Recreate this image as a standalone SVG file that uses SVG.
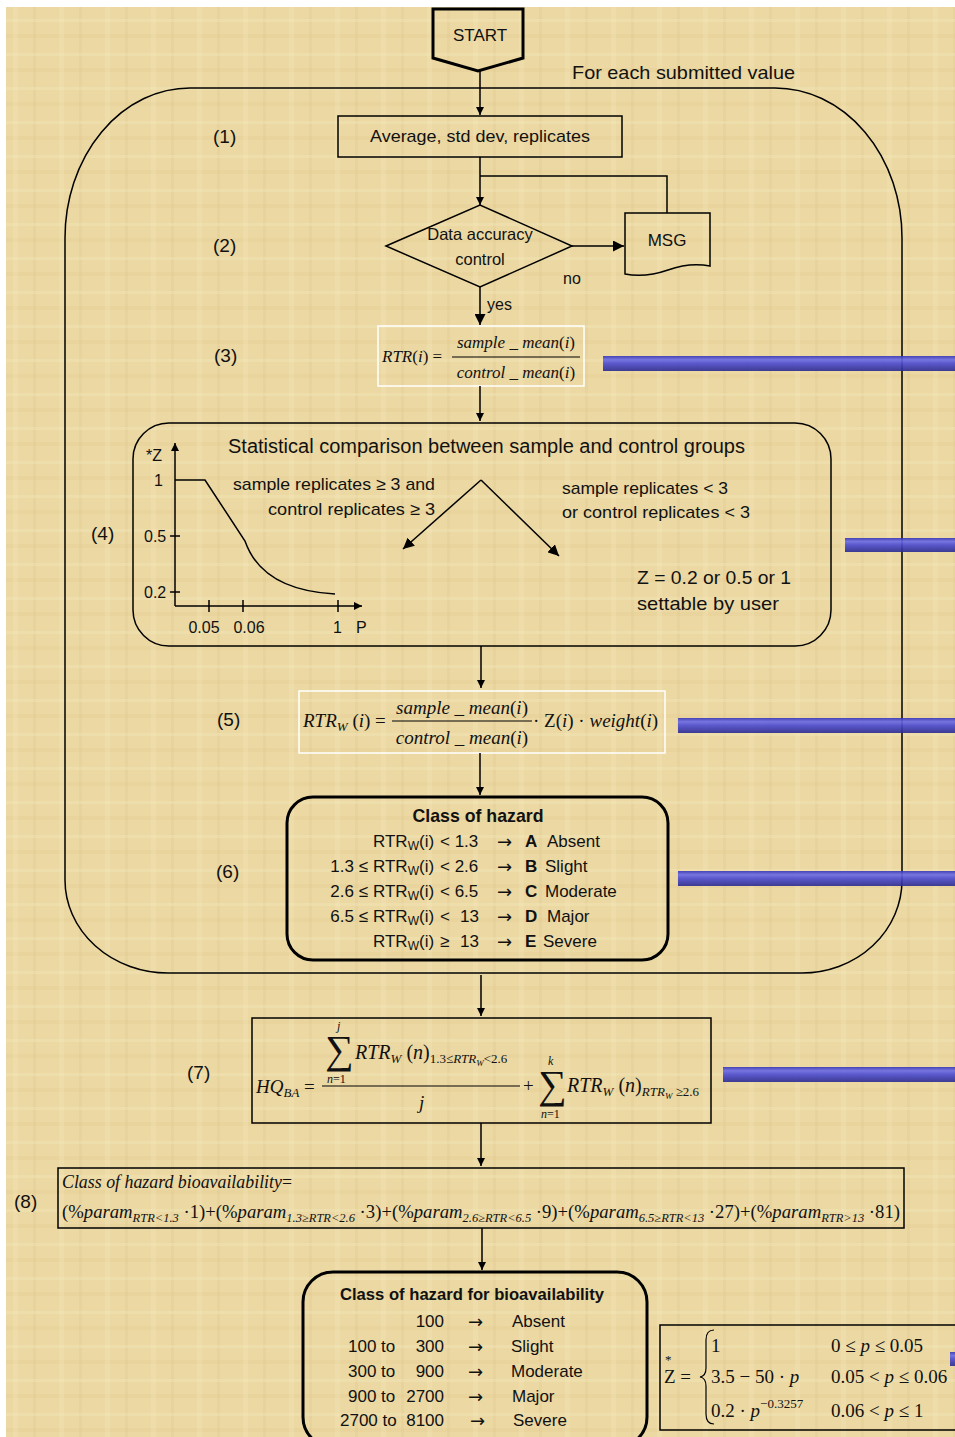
<svg xmlns="http://www.w3.org/2000/svg" width="955" height="1437" viewBox="0 0 955 1437">
<defs>
<style>
.s{font-family:"Liberation Sans",Arial,sans-serif;fill:#111}
.m{font-family:"Liberation Serif","Times New Roman",serif;font-style:italic;fill:#111}
.r{font-family:"Liberation Serif","Times New Roman",serif;fill:#111}
.ar{font-family:"DejaVu Sans",sans-serif;fill:#111;font-size:18px}
.ln{fill:none;stroke:#000;stroke-width:1.5}
.wb{fill:none;stroke:#fff;stroke-width:1.5}
.b{font-weight:bold}
</style>
<marker id="ah" viewBox="0 0 10 10" refX="10" refY="5" markerWidth="8" markerHeight="8" orient="auto" markerUnits="userSpaceOnUse">
<path d="M0,0 L10,5 L0,10 z" fill="#000"/>
</marker>
<marker id="ah2" viewBox="0 0 10 10" refX="10" refY="5" markerWidth="11" markerHeight="11" orient="auto" markerUnits="userSpaceOnUse">
<path d="M0,0 L10,5 L0,10 z" fill="#000"/>
</marker>
<linearGradient id="bar" x1="0" y1="0" x2="0" y2="1">
<stop offset="0" stop-color="#3434b8"/>
<stop offset="0.25" stop-color="#6a6ae6"/>
<stop offset="0.5" stop-color="#4a4ad0"/>
<stop offset="1" stop-color="#2a2a90"/>
</linearGradient>
<pattern id="tex" width="46" height="34" patternUnits="userSpaceOnUse">
<rect width="46" height="34" fill="#ebd8a3"/>
<rect x="0" y="0" width="46" height="4" fill="#e2ca8f" opacity="0.35"/>
<rect x="13" y="0" width="5" height="34" fill="#f2e4b8" opacity="0.35"/>
<rect x="33" y="0" width="3" height="34" fill="#dec589" opacity="0.25"/>
<rect x="0" y="19" width="46" height="3" fill="#f3e6bd" opacity="0.35"/>
</pattern>
</defs>
<rect width="955" height="1437" fill="#fff"/>
<rect x="6" y="7" width="949" height="1430" fill="url(#tex)"/>

<g id="loop">
<path class="ln" d="M190,88 L775,88 A127,150 0 0 1 902,238 L902,880 A100,93 0 0 1 802,973 L168,973 A103,93 0 0 1 65,880 L65,238 A125,150 0 0 1 190,88 Z"/>
<text class="s" x="572" y="79" font-size="19" textLength="223" lengthAdjust="spacingAndGlyphs">For each submitted value</text>
</g>

<g id="labels" class="s" font-size="19">
<text x="213" y="143">(1)</text>
<text x="213" y="252">(2)</text>
<text x="214" y="362">(3)</text>
<text x="91" y="540">(4)</text>
<text x="217" y="726">(5)</text>
<text x="216" y="878">(6)</text>
<text x="187" y="1079">(7)</text>
<text x="14" y="1208">(8)</text>
</g>

<g id="start">
<path d="M433,9 L523,9 L523,58 L478,71 L433,58 Z" fill="none" stroke="#000" stroke-width="3"/>
<text class="s" x="480" y="41" font-size="17" text-anchor="middle">START</text>
</g>

<g id="n1">
<rect x="338" y="116" width="284" height="41" class="ln"/>
<text class="s" x="480" y="142" font-size="17" text-anchor="middle" textLength="220" lengthAdjust="spacingAndGlyphs">Average, std dev, replicates</text>
</g>

<g id="n2">
<path d="M386,246 L480,205 L572,246 L480,287 Z" class="ln"/>
<text class="s" x="480" y="240" font-size="16.5" text-anchor="middle">Data accuracy</text>
<text class="s" x="480" y="265" font-size="16.5" text-anchor="middle">control</text>
</g>

<g id="msg">
<path d="M625,213 L710,213 L710,266 Q690,262 668,270 Q645,278 625,274 Z" class="ln"/>
<text class="s" x="667" y="246" font-size="17" text-anchor="middle">MSG</text>
</g>

<g id="n3">
<rect x="378" y="326" width="206" height="60" class="wb"/>
<text class="m" x="382" y="362" font-size="17">RTR<tspan font-style="normal">(</tspan>i<tspan font-style="normal">) =</tspan></text>
<line x1="452" y1="357" x2="580" y2="357" stroke="#000" stroke-width="1"/>
<text class="m" x="516" y="348" font-size="17" text-anchor="middle">sample _ mean<tspan font-style="normal">(</tspan>i<tspan font-style="normal">)</tspan></text>
<text class="m" x="516" y="378" font-size="17" text-anchor="middle">control _ mean<tspan font-style="normal">(</tspan>i<tspan font-style="normal">)</tspan></text>
</g>

<g id="n4">
<rect x="133" y="423" width="698" height="223" rx="36" ry="36" class="ln"/>
<text class="s" x="228" y="453" font-size="20" textLength="517" lengthAdjust="spacingAndGlyphs">Statistical comparison between sample and control groups</text>
<line x1="175" y1="606" x2="175" y2="443" class="ln" marker-end="url(#ah)"/>
<line x1="175" y1="606" x2="362" y2="606" class="ln" marker-end="url(#ah)"/>
<line x1="170" y1="536" x2="180" y2="536" class="ln"/>
<line x1="170" y1="592" x2="180" y2="592" class="ln"/>
<line x1="209" y1="600" x2="209" y2="612" class="ln"/>
<line x1="243" y1="600" x2="243" y2="612" class="ln"/>
<line x1="338" y1="600" x2="338" y2="612" class="ln"/>
<path d="M175,480 L205,480 L245,541 Q262,590 335,594" class="ln"/>
<g class="s" font-size="16">
<text x="146" y="461">*Z</text>
<text x="154" y="486">1</text>
<text x="144" y="542">0.5</text>
<text x="144" y="598">0.2</text>
<text x="204" y="633" text-anchor="middle">0.05</text>
<text x="249" y="633" text-anchor="middle">0.06</text>
<text x="333" y="633">1</text>
<text x="356" y="633">P</text>
</g>
<g class="s" font-size="17">
<text x="233" y="490" textLength="202" lengthAdjust="spacingAndGlyphs">sample replicates ≥ 3 and</text>
<text x="268" y="515" textLength="167" lengthAdjust="spacingAndGlyphs">control replicates ≥ 3</text>
<text x="562" y="494" textLength="166" lengthAdjust="spacingAndGlyphs">sample replicates &lt; 3</text>
<text x="562" y="518" textLength="188" lengthAdjust="spacingAndGlyphs">or control replicates &lt; 3</text>
</g>
<g class="s" font-size="19">
<text x="637" y="584" textLength="154" lengthAdjust="spacingAndGlyphs">Z = 0.2 or 0.5 or 1</text>
<text x="637" y="610" textLength="142" lengthAdjust="spacingAndGlyphs">settable by user</text>
</g>
<line x1="481" y1="480" x2="403" y2="549" class="ln" marker-end="url(#ah2)"/>
<line x1="481" y1="480" x2="559" y2="556" class="ln" marker-end="url(#ah2)"/>
</g>

<g id="n5">
<rect x="299" y="691" width="366" height="62" class="wb"/>
<text class="m" x="303" y="727" font-size="19">RTR<tspan font-size="13" dy="4">W</tspan><tspan font-style="normal" dy="-4"> (</tspan>i<tspan font-style="normal">) =</tspan></text>
<line x1="392" y1="721" x2="532" y2="721" stroke="#000" stroke-width="1"/>
<text class="m" x="462" y="714" font-size="19" text-anchor="middle">sample _ mean<tspan font-style="normal">(</tspan>i<tspan font-style="normal">)</tspan></text>
<text class="m" x="462" y="744" font-size="19" text-anchor="middle">control _ mean<tspan font-style="normal">(</tspan>i<tspan font-style="normal">)</tspan></text>
<text class="m" x="533" y="727" font-size="19"><tspan font-style="normal">· Z(</tspan>i<tspan font-style="normal">) · </tspan>weight<tspan font-style="normal">(</tspan>i<tspan font-style="normal">)</tspan></text>
</g>

<g id="n6">
<rect x="287" y="797" width="381" height="163" rx="26" ry="26" fill="none" stroke="#000" stroke-width="3"/>
<text class="s b" x="478" y="822" font-size="19" text-anchor="middle" textLength="131" lengthAdjust="spacingAndGlyphs">Class of hazard</text>
<g class="s" font-size="17">
<text x="368" y="872" text-anchor="end">1.3 ≤</text>
<text x="368" y="897" text-anchor="end">2.6 ≤</text>
<text x="368" y="922" text-anchor="end">6.5 ≤</text>
<text x="373" y="847">RTR<tspan font-size="12" dy="3">W</tspan><tspan dy="-3">(i)</tspan></text>
<text x="373" y="872">RTR<tspan font-size="12" dy="3">W</tspan><tspan dy="-3">(i)</tspan></text>
<text x="373" y="897">RTR<tspan font-size="12" dy="3">W</tspan><tspan dy="-3">(i)</tspan></text>
<text x="373" y="922">RTR<tspan font-size="12" dy="3">W</tspan><tspan dy="-3">(i)</tspan></text>
<text x="373" y="947">RTR<tspan font-size="12" dy="3">W</tspan><tspan dy="-3">(i)</tspan></text>
<text x="440" y="847">&lt; 1.3</text>
<text x="440" y="872">&lt; 2.6</text>
<text x="440" y="897">&lt; 6.5</text>
<text x="440" y="922">&lt;</text><text x="479" y="922" text-anchor="end">13</text>
<text x="440" y="947">≥</text><text x="479" y="947" text-anchor="end">13</text>
<text x="525" y="847"><tspan class="b">A</tspan></text><text x="547" y="847">Absent</text>
<text x="525" y="872"><tspan class="b">B</tspan></text><text x="545" y="872">Slight</text>
<text x="525" y="897"><tspan class="b">C</tspan></text><text x="545" y="897">Moderate</text>
<text x="525" y="922"><tspan class="b">D</tspan></text><text x="547" y="922">Major</text>
<text x="525" y="947"><tspan class="b">E</tspan></text><text x="543" y="947">Severe</text>
</g>
<g class="ar">
<text x="497" y="848">→</text><text x="497" y="873">→</text><text x="497" y="898">→</text><text x="497" y="923">→</text><text x="497" y="948">→</text>
</g>
</g>

<g id="n7">
<rect x="252" y="1018" width="459" height="105" class="ln"/>
<text class="m" x="256" y="1093" font-size="19">HQ<tspan font-size="13" dy="4">BA</tspan><tspan font-style="normal" dy="-4"> =</tspan></text>
<line x1="322" y1="1086" x2="520" y2="1086" stroke="#000" stroke-width="1"/>
<text class="r" x="325" y="1063" font-size="40">∑</text>
<text class="m" x="337" y="1030" font-size="12">j</text>
<text class="r" x="327" y="1083" font-size="12"><tspan font-style="italic">n</tspan>=1</text>
<text class="m" x="355" y="1059" font-size="20">RTR<tspan font-size="13" dy="4">W</tspan><tspan font-style="normal" dy="-4"> (</tspan>n<tspan font-style="normal">)</tspan><tspan font-style="normal" font-size="13" dy="4">1.3≤</tspan><tspan font-size="13">RTR</tspan><tspan font-size="9" dy="3">W</tspan><tspan font-style="normal" font-size="13" dy="-3">&lt;2.6</tspan></text>
<text class="m" x="419" y="1109" font-size="19">j</text>
<text class="r" x="523" y="1092" font-size="19">+</text>
<text class="r" x="538" y="1098" font-size="40">∑</text>
<text class="m" x="548" y="1065" font-size="12">k</text>
<text class="r" x="541" y="1118" font-size="12"><tspan font-style="italic">n</tspan>=1</text>
<text class="m" x="567" y="1092" font-size="20">RTR<tspan font-size="13" dy="4">W</tspan><tspan font-style="normal" dy="-4"> (</tspan>n<tspan font-style="normal">)</tspan><tspan font-size="13" dy="4">RTR</tspan><tspan font-size="9" dy="3">W</tspan><tspan font-style="normal" font-size="13" dy="-3"> ≥2.6</tspan></text>
</g>

<g id="n8">
<rect x="58" y="1168" width="846" height="60" class="ln"/>
<text class="m" x="62" y="1188" font-size="18" textLength="230" lengthAdjust="spacingAndGlyphs">Class of  hazard bioavailability<tspan font-style="normal">=</tspan></text>
<text class="m" x="62" y="1218" font-size="18" textLength="838" lengthAdjust="spacingAndGlyphs"><tspan font-style="normal">(%</tspan>param<tspan font-size="12" dy="4">RTR&lt;1.3</tspan><tspan font-style="normal" dy="-4"> ·1)+(%</tspan>param<tspan font-size="12" dy="4">1.3≥RTR&lt;2.6</tspan><tspan font-style="normal" dy="-4"> ·3)+(%</tspan>param<tspan font-size="12" dy="4">2.6≥RTR&lt;6.5</tspan><tspan font-style="normal" dy="-4"> ·9)+(%</tspan>param<tspan font-size="12" dy="4">6.5≥RTR&lt;13</tspan><tspan font-style="normal" dy="-4"> ·27)+(%</tspan>param<tspan font-size="12" dy="4">RTR&gt;13</tspan><tspan font-style="normal" dy="-4"> ·81)</tspan></text>
</g>

<g id="n9">
<rect x="303" y="1272" width="344" height="175" rx="30" ry="30" fill="none" stroke="#000" stroke-width="3"/>
<text class="s b" x="340" y="1300" font-size="17" textLength="264" lengthAdjust="spacingAndGlyphs">Class of hazard for bioavailability</text>
<g class="s" font-size="17">
<text x="444" y="1327" text-anchor="end">100</text>
<text x="348" y="1352">100 to</text><text x="444" y="1352" text-anchor="end">300</text>
<text x="348" y="1377">300 to</text><text x="444" y="1377" text-anchor="end">900</text>
<text x="348" y="1402">900 to</text><text x="444" y="1402" text-anchor="end">2700</text>
<text x="340" y="1426">2700 to</text><text x="444" y="1426" text-anchor="end">8100</text>
<text x="512" y="1327">Absent</text>
<text x="511" y="1352">Slight</text>
<text x="511" y="1377">Moderate</text>
<text x="512" y="1402">Major</text>
<text x="513" y="1426">Severe</text>
</g>
<g class="ar">
<text x="468" y="1328">→</text><text x="468" y="1353">→</text><text x="468" y="1378">→</text><text x="468" y="1403">→</text><text x="470" y="1427">→</text>
</g>
</g>

<g id="zdef">
<rect x="660" y="1325" width="300" height="105" class="ln"/>
<text class="r" x="664" y="1383" font-size="19">Z =</text>
<text class="r" x="665" y="1364" font-size="13">*</text>
<path d="M714,1330 Q706,1330 706,1340 L706,1368 Q706,1376 700,1377 Q706,1378 706,1386 L706,1414 Q706,1424 714,1424" fill="none" stroke="#000" stroke-width="1.2"/>
<g class="r" font-size="19">
<text x="711" y="1352">1</text>
<text x="711" y="1383">3.5 − 50 · <tspan font-style="italic">p</tspan></text>
<text x="711" y="1417">0.2 · <tspan font-style="italic">p</tspan><tspan font-size="13" dy="-9">−0.3257</tspan></text>
<text x="831" y="1352">0 ≤ <tspan font-style="italic">p</tspan> ≤ 0.05</text>
<text x="831" y="1383">0.05 &lt; <tspan font-style="italic">p</tspan> ≤ 0.06</text>
<text x="831" y="1417">0.06 &lt; <tspan font-style="italic">p</tspan> ≤ 1</text>
</g>
</g>

<g id="bars" fill="url(#bar)" opacity="0.9">
<rect x="603" y="356" width="352" height="15"/>
<rect x="845" y="538" width="110" height="14"/>
<rect x="678" y="718" width="277" height="15"/>
<rect x="678" y="871" width="277" height="15"/>
<rect x="723" y="1067" width="232" height="15"/>
<rect x="950" y="1352" width="5" height="14"/>
</g>

<g id="connectors">
<line x1="480" y1="71" x2="480" y2="115" class="ln" marker-end="url(#ah)"/>
<line x1="480" y1="157" x2="480" y2="205" class="ln" marker-end="url(#ah)"/>
<polyline points="480,176 667,176 667,213" class="ln"/>
<line x1="572" y1="246" x2="624" y2="246" class="ln" marker-end="url(#ah2)"/>
<line x1="480" y1="287" x2="480" y2="325" class="ln" marker-end="url(#ah2)"/>
<text class="s" x="563" y="284" font-size="16">no</text>
<text class="s" x="487" y="310" font-size="16">yes</text>
<line x1="480" y1="386" x2="480" y2="421" class="ln" marker-end="url(#ah)"/>
<line x1="481" y1="646" x2="481" y2="688" class="ln" marker-end="url(#ah)"/>
<line x1="480" y1="753" x2="480" y2="795" class="ln" marker-end="url(#ah)"/>
<line x1="481" y1="975" x2="481" y2="1016" class="ln" marker-end="url(#ah)"/>
<line x1="481" y1="1123" x2="481" y2="1166" class="ln" marker-end="url(#ah)"/>
<line x1="482" y1="1228" x2="482" y2="1270" class="ln" marker-end="url(#ah)"/>
</g>
</svg>
